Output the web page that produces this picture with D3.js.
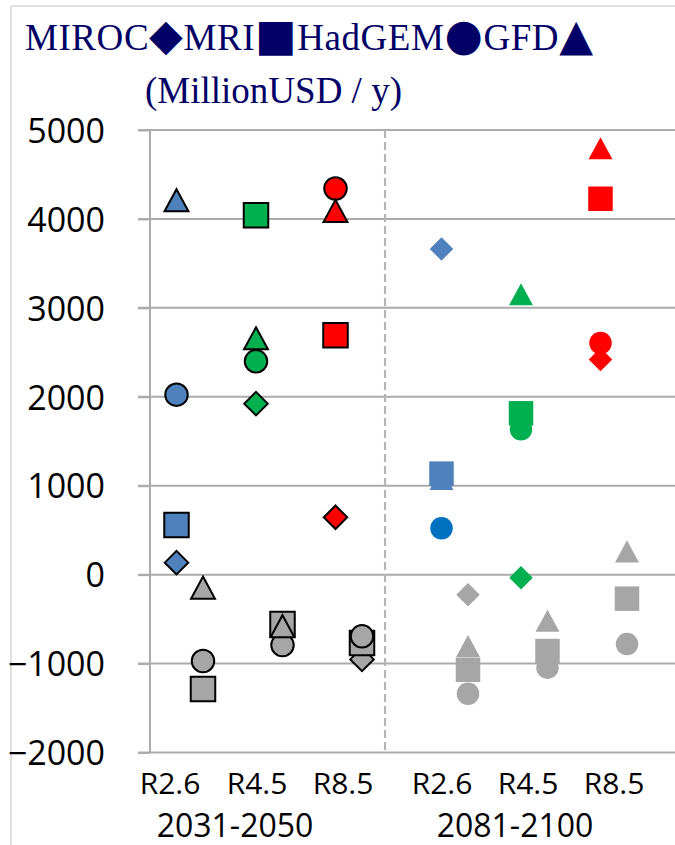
<!DOCTYPE html>
<html>
<head>
<meta charset="utf-8">
<script src="https://cdn.jsdelivr.net/npm/d3@7"></script>
<style>
  html, body { margin: 0; padding: 0; background: #ffffff; }
  svg { display: block; }
</style>
</head>
<body>
<svg id="chart" width="675" height="845"></svg>
<script>
// ---- data ----
const models = ["MIROC", "MRI", "HadGEM", "GFD"];
const modelSymbols = ["◆", "■", "●", "▲"];
const scenarios = ["R2.6", "R4.5", "R8.5"];
const periods = ["2031-2050", "2081-2100"];
const unitLabel = "(MillionUSD / y)";
const yTicks = [-2000, -1000, 0, 1000, 2000, 3000, 4000, 5000];

// Colored markers, order: 2031-2050 R2.6, R4.5, R8.5, then 2081-2100 R2.6, R4.5, R8.5
const mirocValues  = [135, 1923, 645, 3663, -34, 2418];
const mriValues    = [558, 4041, 2692, 1136, 1814, 4227];
const hadgemValues = [2024, 2399, 4342, 521, 1634, 2605];
const gfdValues    = [4210, 2658, 4090, 1075, 3153, 4795];

// Grey companion markers, same order (null = not shown)
const mirocGrey  = [null, null, -953, -225, null, null];
const mriGrey    = [-1287, -555, -770, -1069, -859, -270];
const hadgemGrey = [-971, -792, -694, -1339, -1046, -781];
const gfdGrey    = [-146, -580, null, -803, -518, 262];

// ---- layout & style ----
const svg = d3.select("#chart");
const W = 675, H = 845;
const colouredSlot = [1, 4, 7, 11, 14, 17];
const greySlot = colouredSlot.map(s => s + 1);
const dividerSlot = 8.87;

const x = d3.scaleLinear().domain([0, 20]).range([150, 680]);
const y = d3.scaleLinear().domain([-2000, 5000]).range([752.5, 130]);

const scenarioColour = ["#4F81BD", "#00B050", "#FF0000"];
const specialColour = { "HadGEM|3": "#0070C0" };
const greyColour = "#A6A6A6";
const gridColour = "#ABABAB";
const titleColour = "#000066";

const shapeDraw = {
  diamond: (p, s) => { const h = s / 2; p.moveTo(0, -h); p.lineTo(h, 0); p.lineTo(0, h); p.lineTo(-h, 0); p.closePath(); },
  square: (p, s) => { p.rect(-s / 2, -s / 2, s, s); },
  circle: (p, s) => { p.moveTo(s / 2, 0); p.arc(0, 0, s / 2, 0, 2 * Math.PI); },
  triangle: (p, s) => { const w = s * 1.04, h = s * 0.96; p.moveTo(0, -h / 2); p.lineTo(w / 2, h / 2); p.lineTo(-w / 2, h / 2); p.closePath(); }
};
const modelShape = ["diamond", "square", "circle", "triangle"];
const shapeSize = { diamond: 23.5, square: 24.5, circle: 22.5, triangle: 23 };

const symbolPath = (shape) => d3.symbol().type({ draw: (ctx, size) => shapeDraw[shape](ctx, size) }).size(shapeSize[shape])();

// ---- frame ----
svg.append("line").attr("x1", 11).attr("x2", W).attr("y1", 6).attr("y2", 6)
  .attr("stroke", "#D4D4D4").attr("stroke-width", 1.5);
svg.append("line").attr("x1", 11).attr("x2", 11).attr("y1", 6).attr("y2", H)
  .attr("stroke", "#D4D4D4").attr("stroke-width", 1.5);

// ---- title ----
const title = svg.append("text")
  .attr("x", 25).attr("y", 50)
  .attr("font-family", "'Liberation Serif', 'Times New Roman', serif")
  .attr("font-size", 37)
  .attr("fill", titleColour)
  .attr("textLength", 568)
  .attr("lengthAdjust", "spacing");
models.forEach((m, i) => {
  title.append("tspan").text(m);
  title.append("tspan").attr("font-family", "'DejaVu Sans', sans-serif").attr("font-size", 44).text(modelSymbols[i]);
});
svg.append("text")
  .attr("x", 145).attr("y", 103)
  .attr("font-family", "'Liberation Serif', 'Times New Roman', serif")
  .attr("font-size", 37)
  .attr("fill", titleColour)
  .text(unitLabel);

// ---- grid & axes ----
const grid = svg.append("g");
grid.selectAll("line.grid").data(yTicks).join("line")
  .attr("class", "grid")
  .attr("x1", 138).attr("x2", W)
  .attr("y1", d => y(d)).attr("y2", d => y(d))
  .attr("stroke", gridColour).attr("stroke-width", 2);

const yAxis = d3.axisLeft(y).tickValues(yTicks).tickSize(12).tickPadding(0).tickFormat(d3.format("d"));
const yg = svg.append("g").attr("transform", `translate(${x(0)},0)`).call(yAxis);
yg.select(".domain").attr("stroke", gridColour).attr("stroke-width", 2).attr("d", `M0,${y(5000)}V${y(-2000)}`);
yg.selectAll(".tick line").attr("stroke", gridColour).attr("stroke-width", 2);
yg.selectAll(".tick text")
  .attr("x", -45)
  .attr("dy", "0.36em")
  .attr("font-family", "'Open Sans', 'Noto Sans', sans-serif")
  .attr("font-size", 34)
  .attr("fill", "#000000");

// period divider
svg.append("line")
  .attr("x1", x(dividerSlot)).attr("x2", x(dividerSlot))
  .attr("y1", y(5000)).attr("y2", y(-2000))
  .attr("stroke", "#B4B4B4").attr("stroke-width", 2.2)
  .attr("stroke-dasharray", "8,4");

// ---- markers ----
const colouredSeries = [mirocValues, mriValues, hadgemValues, gfdValues];
const greySeries = [mirocGrey, mriGrey, hadgemGrey, gfdGrey];
const marks = svg.append("g");

models.forEach((m, mi) => {
  const shape = modelShape[mi];
  const path = symbolPath(shape);
  const pts = [];
  colouredSeries[mi].forEach((v, k) => {
    if (v == null) return;
    pts.push({ v, slot: colouredSlot[k], k,
      fill: specialColour[m + "|" + k] || scenarioColour[k % 3] });
  });
  greySeries[mi].forEach((v, k) => {
    if (v == null) return;
    pts.push({ v, slot: greySlot[k], k, fill: greyColour });
  });
  marks.selectAll(null).data(pts).join("path")
    .attr("d", path)
    .attr("transform", d => `translate(${x(d.slot)},${y(d.v)})`)
    .attr("fill", d => d.fill)
    .attr("stroke", d => d.k < 3 ? "#000000" : "none")
    .attr("stroke-width", 2)
    .attr("stroke-linejoin", "miter");
});

// ---- category labels ----
const labelFont = "'Open Sans', 'Noto Sans', sans-serif";
const scenarioLabelX = [170, 257, 343, 442, 528, 614];
const periodLabelX = [235, 515];
svg.append("g").selectAll("text").data(scenarioLabelX).join("text")
  .attr("x", d => d).attr("y", 794)
  .attr("text-anchor", "middle")
  .attr("font-family", labelFont).attr("font-size", 30)
  .attr("fill", "#000000")
  .text((d, i) => scenarios[i % 3]);
svg.append("g").selectAll("text").data(periods).join("text")
  .attr("x", (d, i) => periodLabelX[i]).attr("y", 837)
  .attr("text-anchor", "middle")
  .attr("font-family", labelFont).attr("font-size", 32)
  .attr("fill", "#000000")
  .text(d => d);
</script>
</body>
</html>
